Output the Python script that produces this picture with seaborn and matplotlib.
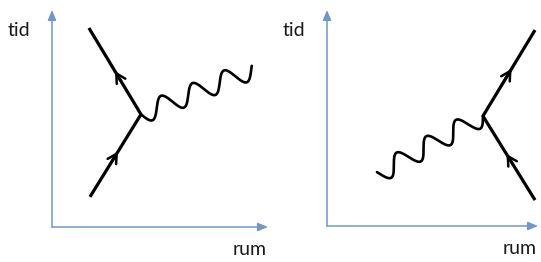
import numpy as np
import matplotlib
matplotlib.use('Agg')
import matplotlib.pyplot as plt
import seaborn as sns

sns.set_style('white')
plt.rcParams['font.family'] = ['Lato', 'DejaVu Sans']

# Koordinater (rum, tid) for de to diagrammer
# venstre: elektron ind, elektron ud, foton ud
venstre_fermion_x = [1.76, 4.12, 1.71]
venstre_fermion_y = [1.39, 5.19, 9.17]
venstre_foton_x = [4.12, 9.31]
venstre_foton_y = [5.19, 7.27]
venstre_pil_pos = [0.55, 0.50]   # brøkdel langs hvert linjestykke

# højre: foton ind, elektron ind, elektron ud
hoejre_fermion_x = [9.63, 7.22, 9.63]
hoejre_fermion_y = [1.20, 5.09, 9.07]
hoejre_foton_x = [7.22, 2.36]
hoejre_foton_y = [5.09, 2.41]
hoejre_pil_pos = [0.55, 0.55]

akse_tekst = ['tid', 'rum']

BLAA = '#7097cc'
PERIODE = 1.57
AMPLITUDE = 0.45


def boelge(x, y, n=500):
    # bølget fotonlinje fra vertex (x[0], y[0]) til enden (x[1], y[1])
    p0 = np.array([x[0], y[0]])
    p1 = np.array([x[1], y[1]])
    d = p1 - p0
    L = np.hypot(*d)
    u = d / L
    perp = np.array([-u[1], u[0]])
    if perp[1] < 0:
        perp = -perp
    s = np.linspace(0, L, n)
    off = -AMPLITUDE * np.sin(2 * np.pi * s / PERIODE)
    pts = p0[None, :] + s[:, None] * u[None, :] + off[:, None] * perp[None, :]
    return pts[:, 0], pts[:, 1]


def tegn(ax, fx, fy, gx, gy, pil_pos, xmax):
    ax.set_xlim(0, xmax)
    ax.set_ylim(0, 10)
    ax.axis('off')

    # akser med pile
    for slut in [(0, 1), (1, 0)]:
        ax.annotate('', xy=slut, xytext=(0, 0), xycoords='axes fraction',
                    arrowprops=dict(arrowstyle='-|>,head_length=0.6,head_width=0.25',
                                    color=BLAA, lw=1.1, mutation_scale=10,
                                    shrinkA=0, shrinkB=0))
    ax.text(-0.155, 0.905, akse_tekst[0], transform=ax.transAxes, fontsize=14,
            ha='center', va='center', color='#1a1a1a')
    ax.text(0.915, -0.105, akse_tekst[1], transform=ax.transAxes, fontsize=14,
            ha='center', va='center', color='#1a1a1a')

    # elektronlinjer
    sns.lineplot(x=fx, y=fy, sort=False, estimator=None, ax=ax, color='black',
                 lw=2.3, solid_capstyle='butt')

    # pile på elektronlinjerne (i tidens retning)
    for i, f in enumerate(pil_pos):
        if i == 0:
            a = np.array([fx[0], fy[0]]); b = np.array([fx[1], fy[1]])
        else:
            a = np.array([fx[1], fy[1]]); b = np.array([fx[2], fy[2]])
        if b[1] < a[1]:
            a, b = b, a
        spids = a + f * (b - a)
        u = (b - a) / np.hypot(*(b - a))
        ax.annotate('', xy=spids, xytext=spids - 0.6 * u,
                    arrowprops=dict(arrowstyle='->,head_length=0.55,head_width=0.3',
                                    color='black', lw=1.8, mutation_scale=12,
                                    shrinkA=0, shrinkB=0))

    # foton
    wx, wy = boelge(gx, gy)
    sns.lineplot(x=wx, y=wy, sort=False, estimator=None, ax=ax, color='black', lw=1.9)


fig = plt.figure(figsize=(5.41, 2.62), dpi=100)
ax1 = fig.add_axes([52 / 541, 35 / 262, 216 / 541, 217 / 262])
ax2 = fig.add_axes([327 / 541, 36 / 262, 211 / 541, 216 / 262])

tegn(ax1, venstre_fermion_x, venstre_fermion_y, venstre_foton_x, venstre_foton_y,
     venstre_pil_pos, 10)
tegn(ax2, hoejre_fermion_x, hoejre_fermion_y, hoejre_foton_x, hoejre_foton_y,
     hoejre_pil_pos, 211 / 21.6)

fig.savefig('out.png', dpi=100)
